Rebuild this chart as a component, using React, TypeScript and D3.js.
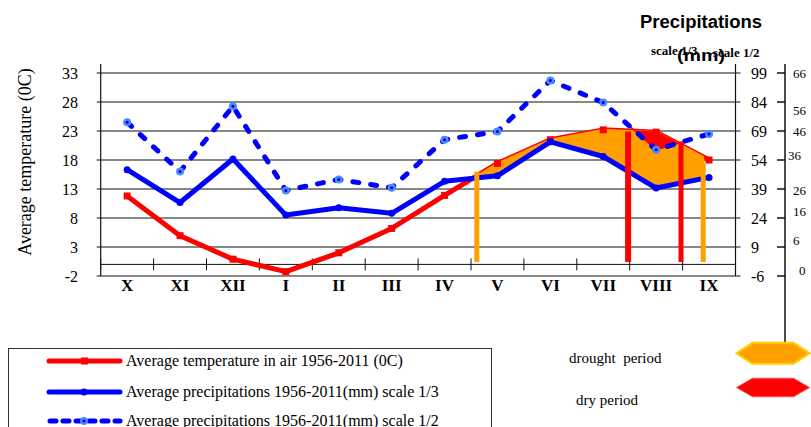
import React from 'react';
import * as d3 from 'd3';

const months = ['X', 'XI', 'XII', 'I', 'II', 'III', 'IV', 'V', 'VI', 'VII', 'VIII', 'IX'];
const temperature = [11.8, 4.95, 0.9, -1.25, 2.0, 6.2, 11.9, 17.4, 21.5, 23.2, 22.8, 18.0];
const precipitation = [49, 32, 54.5, 25.5, 29.3, 26.4, 43, 45.8, 63.4, 55.8, 39.5, 45];
const tempTicks = [33, 28, 23, 18, 13, 8, 3, -2];
const scale13Ticks = [99, 84, 69, 54, 39, 24, 9, -6];
const scale12Ticks = [66, 56, 46, 36, 26, 16, 6, 0];
// period boundaries (fractional month index) and bar tops (°C)
const droughtBounds = [6.61, 10.89];
const droughtTops = [16.0, 17.5];
const dryBounds = [9.47, 10.47];
const dryTops = [22.9, 21.2];
const barBottom = 0.4;

const legendItems = [
  'Average temperature in air 1956-2011 (0C)',
  'Average precipitations 1956-2011(mm) scale 1/3',
  'Average precipitations 1956-2011(mm) scale 1/2',
];

const SERIF = '"Liberation Serif", "Times New Roman", serif';
const SANS = '"Liberation Sans", Arial, sans-serif';

function interp(arr: number[], t: number) {
  const i = Math.max(0, Math.min(arr.length - 2, Math.floor(t)));
  const f = t - i;
  return arr[i] * (1 - f) + arr[i + 1] * f;
}

function samples(a: number, b: number) {
  const pts = d3.range(0, 121).map((k) => a + ((b - a) * k) / 120);
  for (let i = Math.ceil(a); i <= Math.floor(b); i++) pts.push(i);
  return pts.sort((p, q) => p - q);
}

export default function App() {
  const left = 100.7;
  const right = 735.5;
  const x = d3.scaleLinear().domain([-0.5, 11.5]).range([left, right]);
  const y = d3.scaleLinear().domain([-2, 33]).range([276, 73]);
  const idx = months.map((_, i) => i);

  const tempLine = d3.line<number>().x((i) => x(i)).y((i) => y(temperature[i]))(idx) || '';
  const p3Line = d3.line<number>().x((i) => x(i)).y((i) => y(precipitation[i] / 3))(idx) || '';
  const p2Line = d3.line<number>().x((i) => x(i)).y((i) => y(precipitation[i] / 2))(idx) || '';

  const droughtArea =
    d3
      .area<number>()
      .x((t) => x(t))
      .y0((t) => y(interp(precipitation, t) / 3))
      .y1((t) => Math.min(y(interp(temperature, t)), y(interp(precipitation, t) / 3)))(
      samples(droughtBounds[0], droughtBounds[1])
    ) || '';
  const dryArea =
    d3
      .area<number>()
      .x((t) => x(t))
      .y0((t) => y(interp(precipitation, t) / 2))
      .y1((t) => Math.min(y(interp(temperature, t)), y(interp(precipitation, t) / 2)))(
      samples(dryBounds[0], dryBounds[1])
    ) || '';

  const farX = 785;
  const farLabelDy = [0, 8, 0, -5, 1, -7, -7, 6];
  const farLabelDx = [0, 0, 0, -5, 0, 0, 0, 6];
  const midTickY = scale13Ticks.map((v) => y(v / 3));

  const hexagon = (cx: number, cy: number, w: number, h: number, inset: number) =>
    [
      [cx - w / 2, cy],
      [cx - w / 2 + inset, cy - h / 2],
      [cx + w / 2 - inset, cy - h / 2],
      [cx + w / 2, cy],
      [cx + w / 2 - inset, cy + h / 2],
      [cx - w / 2 + inset, cy + h / 2],
    ]
      .map((p) => p.join(','))
      .join(' ');

  return (
    <svg
      width={811}
      height={427}
      style={{ position: 'absolute', left: 0, top: 0, background: '#fff' }}
    >
      <rect width={811} height={427} fill="#fff" />
      {/* gridlines */}
      {tempTicks.map((t) => (
        <line key={'g' + t} x1={left - 4} x2={right + 5} y1={y(t)} y2={y(t)} stroke="#111" strokeWidth={1} />
      ))}
      {/* x axis at 0 */}
      <line x1={left} x2={right} y1={y(0)} y2={y(0)} stroke="#111" strokeWidth={1} />
      {d3.range(0, 13).map((k) => (
        <line
          key={'xt' + k}
          x1={x(k - 0.5)}
          x2={x(k - 0.5)}
          y1={y(0) - 6}
          y2={y(0) + 6}
          stroke="#111"
          strokeWidth={1}
        />
      ))}
      {/* axis lines */}
      <line x1={left} x2={left} y1={64} y2={276} stroke="#111" strokeWidth={1.2} />
      <line x1={right} x2={right} y1={64} y2={276} stroke="#111" strokeWidth={1.2} />
      <line x1={farX} x2={farX} y1={64} y2={342} stroke="#111" strokeWidth={1.5} />
      {midTickY.map((yy, i) => (
        <line key={'ft' + i} x1={farX - 8} x2={farX} y1={yy} y2={yy} stroke="#111" strokeWidth={1.5} />
      ))}

      {/* temperature line (under fills) */}
      <path d={tempLine} fill="none" stroke="#ff0000" strokeWidth={5} strokeLinejoin="round" />
      {/* drought + dry fills */}
      <path d={droughtArea} fill="#ffa000" stroke="#ffa000" strokeWidth={2} strokeLinejoin="round" />
      <path d={dryArea} fill="#ff0000" stroke="#ff0000" strokeWidth={1.5} />

      {/* precipitation lines */}
      <path d={p3Line} fill="none" stroke="#0000ff" strokeWidth={5} strokeLinejoin="round" />
      <path
        d={p2Line}
        fill="none"
        stroke="#0000ff"
        strokeWidth={5}
        strokeDasharray="6 12"
        strokeLinecap="round"
      />

      {/* markers */}
      {idx.map((i) => (
        <rect
          key={'tm' + i}
          x={x(i) - 3.5}
          y={y(temperature[i]) - 3.5}
          width={7}
          height={7}
          fill="#ff0000"
        />
      ))}
      {idx.map((i) => (
        <circle key={'pm3' + i} cx={x(i)} cy={y(precipitation[i] / 3)} r={3.5} fill="#0000ff" />
      ))}
      {idx.map((i) => (
        <g key={'pm2' + i}>
          <circle cx={x(i)} cy={y(precipitation[i] / 2)} r={4} fill="#4a8cff" />
          <circle cx={x(i)} cy={y(precipitation[i] / 2)} r={1.5} fill="#0000cc" />
        </g>
      ))}

      {/* period bars */}
      {droughtBounds.map((b, i) => (
        <line
          key={'db' + i}
          x1={x(b)}
          x2={x(b)}
          y1={y(droughtTops[i])}
          y2={y(barBottom)}
          stroke="#ffa000"
          strokeWidth={5}
        />
      ))}
      {dryBounds.map((b, i) => (
        <line
          key={'rb' + i}
          x1={x(b)}
          x2={x(b)}
          y1={y(dryTops[i])}
          y2={y(barBottom)}
          stroke="#ff0000"
          strokeWidth={i === 0 ? 6 : 5}
        />
      ))}

      {/* left tick labels */}
      {tempTicks.map((t) => (
        <text
          key={'lt' + t}
          x={78}
          y={y(t)}
          dy="0.35em"
          textAnchor="end"
          fontFamily={SERIF}
          fontSize={16}
          fill="#000"
        >
          {t}
        </text>
      ))}
      {/* middle right labels (scale 1/3) */}
      {scale13Ticks.map((v) => (
        <text
          key={'mt' + v}
          x={751}
          y={y(v / 3)}
          dy="0.35em"
          fontFamily={SERIF}
          fontSize={16}
          fill="#000"
        >
          {v}
        </text>
      ))}
      {/* far right labels (scale 1/2) */}
      {scale12Ticks.map((v, i) => (
        <text
          key={'rt' + v}
          x={793 + farLabelDx[i]}
          y={y(v / 2) + farLabelDy[i]}
          dy="0.35em"
          fontFamily={SERIF}
          fontSize={13}
          fill="#000"
        >
          {v}
        </text>
      ))}
      {/* month labels */}
      {months.map((m, i) => (
        <text
          key={'m' + m}
          x={x(i)}
          y={291}
          textAnchor="middle"
          fontFamily={SERIF}
          fontWeight="bold"
          fontSize={17}
          fill="#000"
        >
          {m}
        </text>
      ))}

      {/* y title */}
      <text
        transform="translate(31,162) rotate(-90)"
        textAnchor="middle"
        fontFamily={SERIF}
        fontSize={18}
        fill="#000"
      >
        Average temperature (0C)
      </text>

      {/* right titles */}
      <text x={640} y={28} fontFamily={SANS} fontWeight="bold" fontSize={18} textLength={122} lengthAdjust="spacingAndGlyphs" fill="#000">
        Precipitations
      </text>
      <text x={651} y={55} fontFamily={SERIF} fontWeight="bold" fontSize={13} fill="#000">
        scale 1/3
      </text>
      <text x={713} y={57} fontFamily={SERIF} fontWeight="bold" fontSize={13} fill="#000">
        scale 1/2
      </text>
      <text x={677} y={61} fontFamily={SANS} fontWeight="bold" fontSize={17} textLength={48} lengthAdjust="spacingAndGlyphs" fill="#000">
        (mm)
      </text>

      {/* legend box */}
      <rect x={8.5} y={348.5} width={483} height={100} fill="#fff" stroke="#333" strokeWidth={1} />
      {legendItems.map((label, i) => {
        const ly = [361, 392, 421][i];
        const color = '#ff0000';
        return (
          <g key={'lg' + i}>
            {i === 0 && (
              <>
                <line x1={49} x2={120} y1={ly} y2={ly} stroke={color} strokeWidth={5} strokeLinecap="round" />
                <rect x={81} y={ly - 3.5} width={7} height={7} fill={color} />
              </>
            )}
            {i === 1 && (
              <>
                <line x1={49} x2={120} y1={ly} y2={ly} stroke="#0000ff" strokeWidth={5} strokeLinecap="round" />
                <circle cx={84} cy={ly} r={3.5} fill="#0000ff" />
              </>
            )}
            {i === 2 && (
              <>
                <line
                  x1={50}
                  x2={120}
                  y1={ly}
                  y2={ly}
                  stroke="#0000ff"
                  strokeWidth={5}
                  strokeDasharray="6 7"
                  strokeLinecap="round"
                />
                <circle cx={84} cy={ly} r={4} fill="#4a8cff" />
                <circle cx={84} cy={ly} r={1.5} fill="#0000cc" />
              </>
            )}
            <text x={126} y={ly + 5} fontFamily={SERIF} fontSize={16} fill="#000">
              {label}
            </text>
          </g>
        );
      })}

      {/* period legend */}
      <text x={569} y={363} fontFamily={SERIF} fontSize={15} fill="#000" style={{ whiteSpace: 'pre' }}>
        drought  period
      </text>
      <text x={576} y={405} fontFamily={SERIF} fontSize={15} fill="#000">
        dry period
      </text>
      <polygon points={hexagon(773, 353.3, 73, 21, 16)} fill="#ffa000" stroke="#ffcc00" strokeWidth={2} />
      <polygon points={hexagon(773, 387.5, 73, 18.5, 16)} fill="#ff0000" stroke="#ff5050" strokeWidth={1} />
    </svg>
  );
}
